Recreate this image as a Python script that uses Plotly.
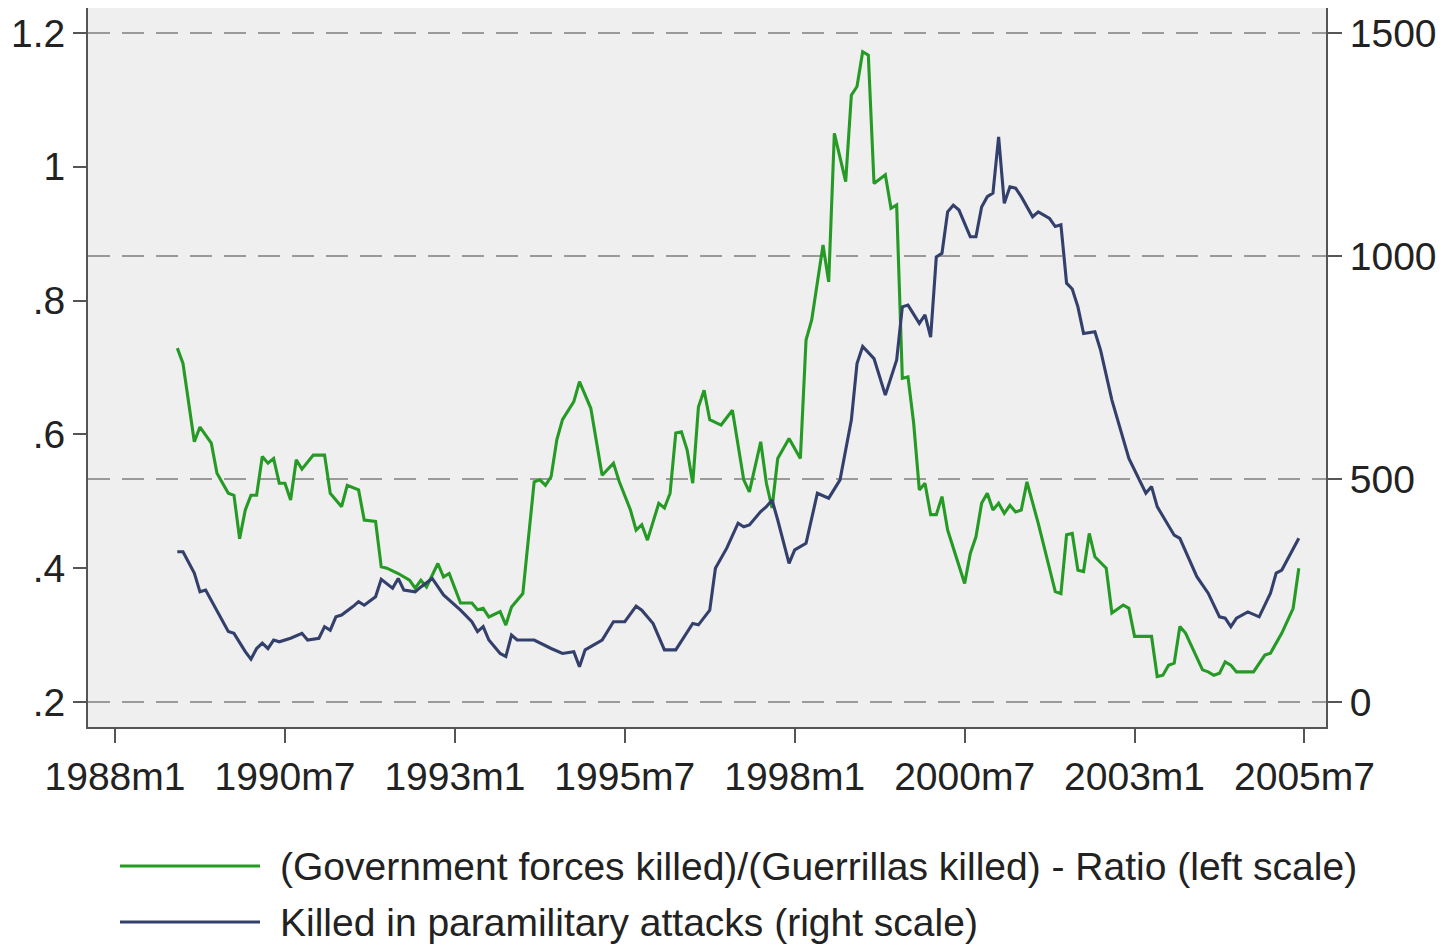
import plotly.graph_objects as go

# ---------------- data ----------------
ratio_months = ["1988m12","1989m1","1989m3","1989m4","1989m6","1989m7","1989m9","1989m10","1989m11","1989m12",
    "1990m1","1990m2","1990m3","1990m4","1990m5","1990m6","1990m7","1990m8","1990m9","1990m10","1990m12",
    "1991m2","1991m3","1991m5","1991m6","1991m8","1991m9","1991m11","1991m12",
    "1992m1","1992m3","1992m5","1992m6","1992m7","1992m8","1992m10","1992m11","1992m12",
    "1993m2","1993m4","1993m5","1993m6","1993m7","1993m9","1993m10","1993m11",
    "1994m1","1994m3","1994m4","1994m5","1994m6","1994m7","1994m8","1994m10","1994m11",
    "1995m1","1995m3","1995m5","1995m6","1995m8","1995m9","1995m10","1995m11",
    "1996m1","1996m2","1996m3","1996m4","1996m5","1996m6","1996m7","1996m8","1996m9","1996m10","1996m12",
    "1997m2","1997m4","1997m5","1997m7","1997m8","1997m9","1997m10","1997m12",
    "1998m2","1998m3","1998m4","1998m6","1998m7","1998m8","1998m10","1998m11","1998m12",
    "1999m1","1999m2","1999m3","1999m5","1999m6","1999m7","1999m8","1999m9","1999m10","1999m11","1999m12",
    "2000m1","2000m2","2000m3","2000m4","2000m7","2000m8","2000m9","2000m10","2000m11","2000m12",
    "2001m1","2001m2","2001m3","2001m4","2001m5","2001m6","2001m8","2001m11","2001m12",
    "2002m1","2002m2","2002m3","2002m4","2002m5","2002m6","2002m8","2002m9","2002m11","2002m12",
    "2003m1","2003m4","2003m5","2003m6","2003m7","2003m8","2003m9","2003m10",
    "2004m1","2004m2","2004m3","2004m4","2004m5","2004m6","2004m7","2004m10","2004m12",
    "2005m1","2005m3","2005m5","2005m6"]
ratio_values = [0.729,0.706,0.589,0.611,0.587,0.542,0.512,0.509,0.444,0.487,
    0.509,0.509,0.567,0.557,0.564,0.527,0.527,0.502,0.562,0.548,0.569,
    0.569,0.512,0.492,0.524,0.517,0.472,0.470,0.402,
    0.400,0.392,0.382,0.370,0.382,0.372,0.407,0.387,0.392,
    0.348,0.348,0.338,0.340,0.327,0.335,0.315,0.342,
    0.362,0.529,0.532,0.524,0.537,0.592,0.622,0.649,0.679,
    0.639,0.539,0.557,0.530,0.487,0.457,0.465,0.442,
    0.497,0.490,0.512,0.602,0.604,0.577,0.527,0.641,0.666,0.622,0.614,
    0.636,0.532,0.514,0.589,0.527,0.490,0.564,0.594,
    0.564,0.741,0.771,0.883,0.828,1.050,0.978,1.107,1.120,
    1.172,1.167,0.975,0.988,0.938,0.943,0.684,0.686,0.617,0.517,0.527,
    0.480,0.480,0.507,0.457,0.377,0.422,0.447,0.497,0.512,0.487,
    0.497,0.482,0.494,0.484,0.487,0.529,0.467,0.365,0.362,
    0.450,0.452,0.397,0.395,0.452,0.417,0.400,0.333,0.345,0.340,
    0.298,0.298,0.238,0.240,0.255,0.258,0.313,0.303,
    0.248,0.245,0.240,0.243,0.260,0.255,0.245,0.245,0.270,
    0.273,0.303,0.340,0.400]

para_months = ["1988m12","1989m1","1989m3","1989m4","1989m5","1989m7","1989m9","1989m10","1989m12",
    "1990m1","1990m2","1990m3","1990m4","1990m5","1990m6","1990m8","1990m10","1990m11",
    "1991m1","1991m2","1991m3","1991m4","1991m5","1991m7","1991m8","1991m9","1991m11","1991m12",
    "1992m2","1992m3","1992m4","1992m6","1992m7","1992m9","1992m11",
    "1993m2","1993m4","1993m5","1993m6","1993m7","1993m9","1993m10","1993m11","1993m12",
    "1994m3","1994m6","1994m8","1994m10","1994m11","1994m12",
    "1995m3","1995m5","1995m7","1995m9","1995m10","1995m12",
    "1996m2","1996m4","1996m7","1996m8","1996m10","1996m11",
    "1997m1","1997m3","1997m4","1997m5","1997m7","1997m8","1997m9","1997m10","1997m12",
    "1998m1","1998m3","1998m5","1998m7","1998m9","1998m11","1998m12",
    "1999m1","1999m3","1999m5","1999m7","1999m8","1999m9","1999m11","1999m12",
    "2000m1","2000m2","2000m3","2000m4","2000m5","2000m6","2000m8","2000m9","2000m10","2000m11","2000m12",
    "2001m1","2001m2","2001m3","2001m4","2001m5","2001m7","2001m8","2001m10","2001m11","2001m12",
    "2002m1","2002m2","2002m3","2002m4","2002m6","2002m7","2002m9","2002m10","2002m12",
    "2003m3","2003m4","2003m5","2003m8","2003m9","2003m12",
    "2004m2","2004m4","2004m5","2004m6","2004m7","2004m9","2004m11",
    "2005m1","2005m2","2005m3","2005m6"]
para_values = [337,337,289,247,251,206,158,154,113,
    96,120,132,120,139,135,143,154,139,
    143,169,161,191,195,214,225,217,236,275,
    255,277,251,247,258,277,240,
    206,180,158,169,139,109,102,150,139,
    139,120,109,113,79,117,
    139,180,180,215,206,176,
    117,117,176,173,206,300,
    345,401,393,397,427,438,453,408,311,
    341,356,468,457,498,632,759,
    797,770,688,767,886,890,849,868,
    818,998,1006,1099,1114,1103,1043,1043,1110,1133,1141,
    1267,1118,1155,1152,1133,1088,1099,1084,1066,1070,
    939,926,886,826,830,789,677,632,546,
    468,483,438,374,367,281,
    244,191,188,169,188,202,191,
    244,289,296,367]

x_tick_labels = ["1988m1","1990m7","1993m1","1995m7","1998m1","2000m7","2003m1","2005m7"]
left_ticks = [0.2, 0.4, 0.6, 0.8, 1.0, 1.2]
left_tick_labels = [".2", ".4", ".6", ".8", "1", "1.2"]
right_ticks = [0, 500, 1000, 1500]

ratio_name = "(Government forces killed)/(Guerrillas killed) - Ratio (left scale)"
para_name = "Killed in paramilitary attacks (right scale)"


def month_index(s):
    y, m = s.split("m")
    return (int(y) - 1988) * 12 + int(m) - 1


GREEN = "#259a25"
NAVY = "#34406c"
FONT = "Liberation Sans, Arial, sans-serif"
FS = 39

fig = go.Figure()
fig.add_trace(go.Scatter(x=[month_index(s) for s in ratio_months], y=ratio_values,
                         mode="lines", name=ratio_name, yaxis="y",
                         line=dict(color=GREEN, width=3.1)))
fig.add_trace(go.Scatter(x=[month_index(s) for s in para_months], y=para_values,
                         mode="lines", name=para_name, yaxis="y2",
                         line=dict(color=NAVY, width=3.1)))

# the page body has an 8px margin, so the figure is drawn 8px in from the window's corner
OFF = 8
W, H = 1446 - OFF, 948 - OFF
L, R, T, B = 88 - OFF, 120, 8 - OFF, 221
pw, ph = W - L - R, H - T - B

tick_font = dict(size=FS, family=FONT, color="#222222")
fig.update_layout(
    width=W, height=H,
    margin=dict(l=L, r=R, t=T, b=B),
    paper_bgcolor="white",
    plot_bgcolor="#efefef",
    showlegend=False,
    font=dict(family=FONT, size=FS, color="#222222"),
    xaxis=dict(range=[-4.77, 213.8],
               tickvals=[month_index(s) for s in x_tick_labels], ticktext=x_tick_labels,
               ticks="outside", ticklen=14, tickwidth=1.5, tickcolor="#555555",
               showline=True, linecolor="#555555", linewidth=2,
               showgrid=False, zeroline=False, tickfont=tick_font),
    yaxis=dict(range=[0.1626, 1.2374], tickvals=left_ticks, ticktext=left_tick_labels,
               ticks="outside", ticklen=13, tickwidth=1.5, tickcolor="#555555",
               showline=True, linecolor="#555555", linewidth=2,
               showgrid=False, zeroline=False, tickfont=tick_font),
    yaxis2=dict(range=[-56, 1556], tickvals=right_ticks, overlaying="y", side="right",
                ticks="outside", ticklen=14, tickwidth=1.5, tickcolor="#555555",
                showline=True, linecolor="#555555", linewidth=2,
                showgrid=True, gridcolor="#9a9a9a", gridwidth=1.5, griddash="22px,12px",
                zeroline=False, tickfont=tick_font),
)


def px_to_paper(xpx, ypx):
    # reference-window pixels -> paper coordinates of this figure
    return (xpx - OFF - L) / pw, (H - B - (ypx - OFF)) / ph


legend_rows = [(ratio_name, GREEN, 866), (para_name, NAVY, 922)]
for name, color, ypx in legend_rows:
    x0, y0 = px_to_paper(120, ypx)
    x1, _ = px_to_paper(260, ypx)
    xt, _ = px_to_paper(278, ypx)
    fig.add_shape(type="line", xref="paper", yref="paper", x0=x0, x1=x1, y0=y0, y1=y0,
                  line=dict(color=color, width=3.1))
    fig.add_annotation(xref="paper", yref="paper", x=xt, y=y0, text=name, showarrow=False,
                       xanchor="left", yanchor="middle", font=tick_font)

fig.write_html("out.html")
